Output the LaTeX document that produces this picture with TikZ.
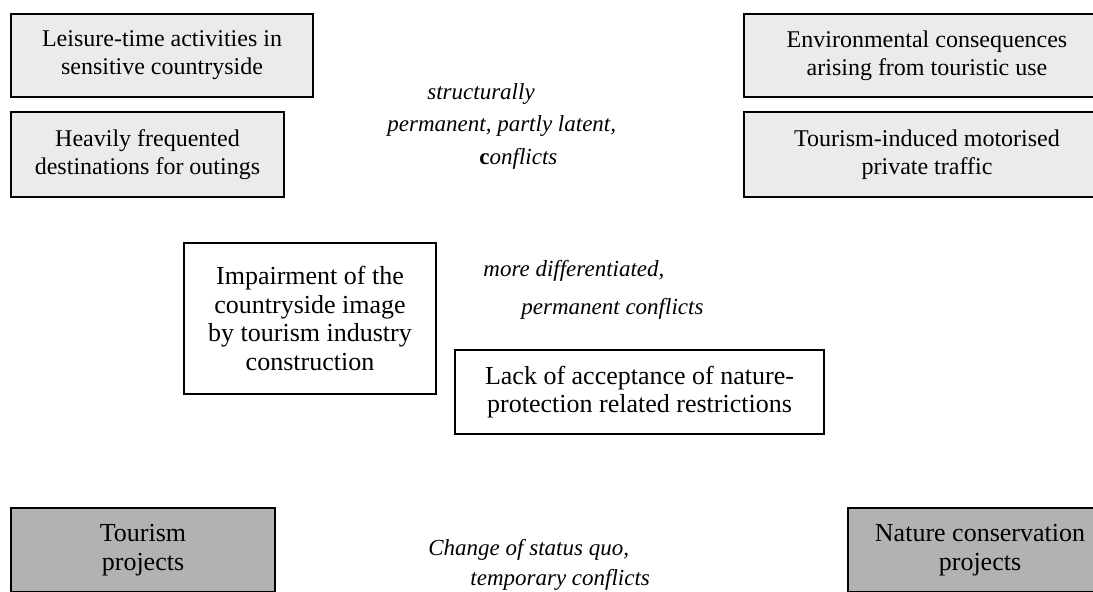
\documentclass[tikz,border=0pt]{standalone}
\usepackage{fontspec}
\setmainfont{Liberation Serif}
\definecolor{usefill}{gray}{0.92}
\definecolor{projfill}{gray}{0.7}
\begin{document}
\begin{tikzpicture}[x=0.5pt,y=-0.5pt,
    box/.style={draw,line width=0.8pt,rectangle,align=center,inner sep=0pt,
      font=\fontsize{12pt}{13.9pt}\selectfont},
    bigbox/.style={box,font=\fontsize{13pt}{14.3pt}\selectfont},
    usebox/.style={box,fill=usefill},
    projbox/.style={bigbox,fill=projfill},
    conflict/.style={anchor=north west,align=left,inner sep=0pt,
      font=\fontsize{11.5pt}{13.9pt}\selectfont\itshape}]
  \useasboundingbox (0,0) rectangle (1093,592);
  % use-related conflicts
  \node[usebox,minimum width=151pt,minimum height=41.5pt] (leisure) at (162,55.5)
    {Leisure-time activities in\\sensitive countryside};
  \node[usebox,minimum width=136.5pt,minimum height=42.5pt] (outings) at (147.5,154.5)
    {Heavily frequented\\destinations for outings};
  \node[usebox,minimum width=183pt,minimum height=41.5pt] (environ) at (927,55.5)
    {Environmental consequences\\arising from touristic use};
  \node[usebox,minimum width=183pt,minimum height=42.5pt] (traffic) at (927,154.5)
    {Tourism-induced motorised\\private traffic};
  % differentiated conflicts
  \node[bigbox,minimum width=126pt,minimum height=75.5pt] (impair) at (310,318.5)
    {Impairment of the\\countryside image\\by tourism industry\\construction};
  \node[bigbox,minimum width=184.5pt,minimum height=42pt] (lack) at (639.5,392)
    {Lack of acceptance of nature-\\protection related restrictions};
  % projects
  \node[projbox,minimum width=132pt,minimum height=42pt] (tourism) at (143,550)
    {Tourism\\projects};
  \node[projbox,minimum width=132pt,minimum height=42pt] (nature) at (980,550)
    {Nature conservation\\projects};
  % labels
  \node[conflict] (structural) at (387,83)
    {\hspace*{20pt}structurally\\[2.3pt]permanent, partly latent,\\[2.3pt]\hspace*{46pt}\textup{\textbf{c}}onflicts};
  \node[conflict] (differentiated) at (483,260)
    {more differentiated,\\[5.3pt]\hspace*{19pt}permanent conflicts};
  \node[conflict] (temporary) at (428,539)
    {Change of status quo,\\[1pt]\hspace*{21pt}temporary conflicts};
\end{tikzpicture}
\end{document}
